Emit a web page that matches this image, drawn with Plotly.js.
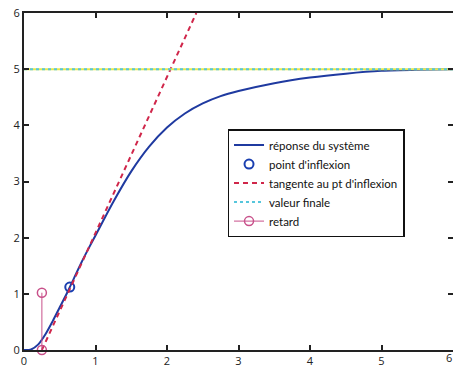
<!DOCTYPE html>
<html>
<head>
<meta charset="utf-8">
<script src="https://cdn.plot.ly/plotly-3.0.1.min.js"></script>
<style>html,body{margin:0;padding:0;background:#fff}#chart{width:453px;height:367px}</style>
</head>
<body>
<div id="chart"></div>
<script>
// response of the system
const respT = [0, 0.07, 0.1, 0.2, 0.3, 0.4, 0.5, 0.6, 0.7, 0.8, 0.9, 1.0, 1.25, 1.5, 1.75, 2.0, 2.25, 2.5, 2.75, 3.0, 3.5, 4.0, 4.5, 5.0, 5.5, 6.0];
const respY = [0, 0, 0.01, 0.1, 0.28, 0.51, 0.76, 1.01, 1.28, 1.55, 1.8, 2.04, 2.64, 3.18, 3.62, 3.96, 4.21, 4.39, 4.52, 4.61, 4.75, 4.85, 4.92, 4.97, 4.99, 5.0];
// inflection point
const inflT = [0.64];
const inflY = [1.12];
// tangent at inflection point
const tanT = [0.25, 2.41];
const tanY = [0, 6];
// final value
const finT = [0, 6];
const finY = [5, 5];
// delay
const retT = [0.25, 0.25];
const retY = [0, 1.02];
// tick labels
const xTicks = [0, 1, 2, 3, 4, 5, 6];
const yTicks = [0, 1, 2, 3, 4, 5, 6];

const fontFam = 'Lato, Open Sans, sans-serif';

const traces = [
  {x: respT, y: respY, mode: 'lines', name: 'réponse du système',
   line: {color: '#1f3aa0', width: 2, shape: 'spline', smoothing: 0.8}},
  {x: inflT, y: inflY, mode: 'markers', name: "point d'inflexion",
   marker: {symbol: 'circle-open', size: 9, color: '#1a3fb0', line: {width: 2, color: '#1a3fb0'}}},
  {x: tanT, y: tanY, mode: 'lines', name: "tangente au pt d'inflexion",
   line: {color: '#d0264a', width: 2, dash: '5px,4px'}},
  {x: finT, y: finY, mode: 'lines', showlegend: false, hoverinfo: 'skip',
   line: {color: '#e6e84c', width: 2}},
  {x: finT, y: finY, mode: 'lines', name: 'valeur finale',
   line: {color: '#56c6dc', width: 2, dash: '3px,3px'}},
  {x: retT, y: retY, mode: 'lines+markers', name: 'retard', cliponaxis: false,
   line: {color: '#c8508a', width: 1},
   marker: {symbol: 'circle-open', size: 9, color: '#c8508a', line: {width: 1.5, color: '#c8508a'}}}
];

const axisCommon = {
  showgrid: false, zeroline: false, showline: true, linecolor: '#222', linewidth: 2,
  mirror: 'ticks', ticks: 'inside', ticklen: 5, tickwidth: 2, tickcolor: '#222',
  tickfont: {family: 'Open Sans, sans-serif', size: 11, color: '#222'}
};

const layout = {
  width: 453, height: 367,
  margin: {l: 24, r: 0, t: 13, b: 17},
  paper_bgcolor: '#fff', plot_bgcolor: '#fff',
  showlegend: true,
  legend: {x: 0.887, xanchor: 'right', y: 0.335, yanchor: 'bottom',
    bordercolor: '#111', borderwidth: 1.5, bgcolor: '#fff',
    font: {family: fontFam, size: 11.5, color: '#111'},
    tracegroupgap: 0},
  xaxis: Object.assign({}, axisCommon, {range: [0, 6], tickvals: xTicks, ticktext: xTicks.map(String)}),
  yaxis: Object.assign({}, axisCommon, {range: [0, 6], tickvals: yTicks, ticktext: yTicks.map(String), ticklabelstandoff: 0}),
  annotations: [{x: xTicks[xTicks.length - 1], xref: 'x', xanchor: 'right', y: 0, yref: 'paper', yanchor: 'top',
    yshift: 1, borderpad: 0, text: String(xTicks[xTicks.length - 1]), showarrow: false,
    font: {family: 'Open Sans, sans-serif', size: 11, color: '#222'}}]
};

Plotly.newPlot('chart', traces, layout, {displayModeBar: false, staticPlot: true});
</script>
</body>
</html>
